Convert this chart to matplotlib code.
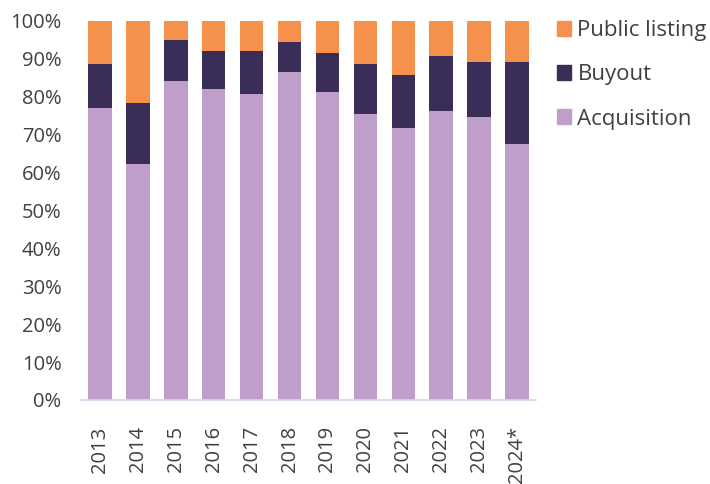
import matplotlib.pyplot as plt
from matplotlib.ticker import PercentFormatter
from matplotlib.patches import Patch

plt.rcParams['font.family'] = ['Open Sans', 'DejaVu Sans']

years = ['2013', '2014', '2015', '2016', '2017', '2018',
         '2019', '2020', '2021', '2022', '2023', '2024*']
acquisition = [77.0, 62.3, 84.2, 82.0, 80.6, 86.4, 81.3, 75.5, 71.8, 76.2, 74.7, 67.5]
buyout = [11.5, 16.0, 10.8, 10.1, 11.5, 7.9, 10.1, 13.0, 13.8, 14.4, 14.5, 21.7]
public_listing = [100 - a - b for a, b in zip(acquisition, buyout)]

c_acq = '#BF9FC9'
c_buy = '#3A2E58'
c_pub = '#F6914C'
text_col = '#404040'

fig = plt.figure(figsize=(7.1, 4.84), dpi=100)
ax = fig.add_axes([0.114, 0.1736, 0.641, 0.7834])

x = range(len(years))
w = 0.62
ax.bar(x, acquisition, w, color=c_acq)
bottom2 = acquisition
ax.bar(x, buyout, w, bottom=bottom2, color=c_buy)
bottom3 = [a + b for a, b in zip(acquisition, buyout)]
ax.bar(x, public_listing, w, bottom=bottom3, color=c_pub)

ax.set_xlim(-0.5, len(years) - 0.5)
ax.set_ylim(0, 100)
ax.set_yticks(range(0, 101, 10))
ax.yaxis.set_major_formatter(PercentFormatter(decimals=0))
ax.set_xticks(list(x))
ax.set_xticklabels(years, rotation=90)

for s in ['top', 'right', 'left']:
    ax.spines[s].set_visible(False)
ax.spines['bottom'].set_color('#DCD3E6')
ax.spines['bottom'].set_linewidth(1.2)
ax.tick_params(axis='both', length=0, labelsize=14.5, colors=text_col)
ax.tick_params(axis='y', pad=14)
ax.tick_params(axis='x', pad=19)

handles = [Patch(color=c_pub, label='Public listing'),
           Patch(color=c_buy, label='Buyout'),
           Patch(color=c_acq, label='Acquisition')]
leg = fig.legend(handles=handles, loc='upper left', bbox_to_anchor=(0.7845, 0.958),
                 frameon=False, fontsize=16, handlelength=0.65, handleheight=0.65,
                 handletextpad=0.27, labelspacing=1.04, borderpad=0, borderaxespad=0,
                 labelcolor=text_col)

fig.savefig('out.png', dpi=100)
